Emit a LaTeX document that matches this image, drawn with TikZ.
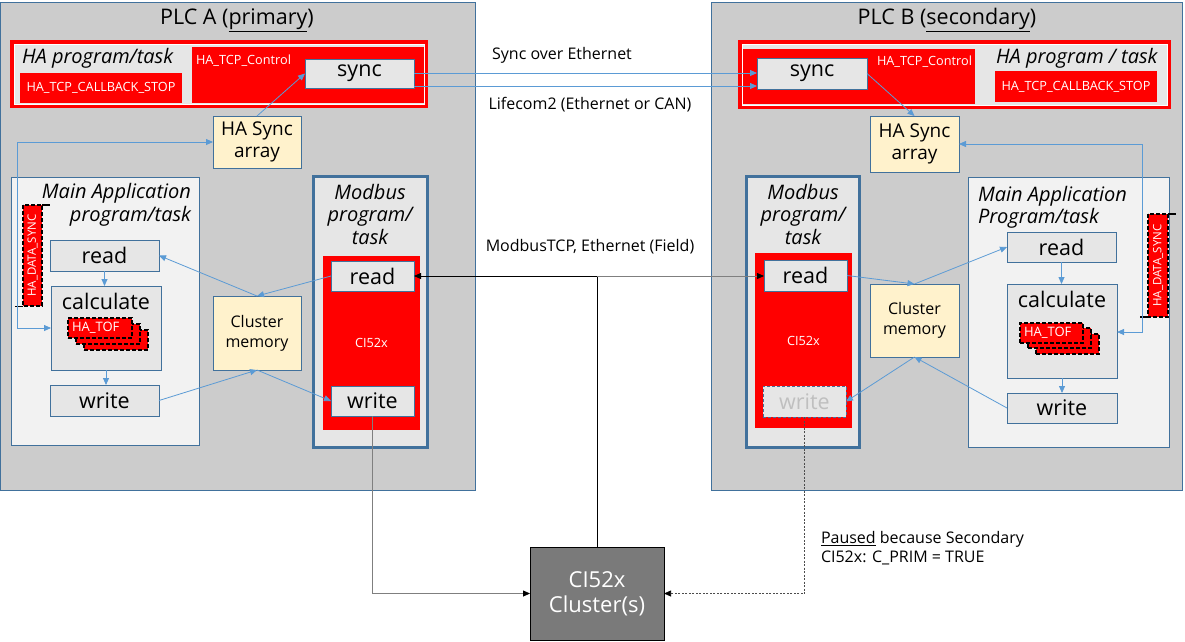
\documentclass[tikz,border=0pt]{standalone}
\usepackage{fontspec}
\setmainfont{Open Sans}
\usetikzlibrary{arrows.meta,calc}
\definecolor{plcgray}{HTML}{CCCCCC}
\definecolor{sb}{HTML}{41719C}
\definecolor{lb}{HTML}{5B9BD5}
\definecolor{bgray}{HTML}{E6E6E6}
\definecolor{mgray}{HTML}{F2F2F2}
\definecolor{yel}{HTML}{FFF2CC}
\definecolor{rd}{HTML}{FF0000}
\definecolor{cgray}{HTML}{7A7A7A}
\definecolor{lgray}{HTML}{7F7F7F}
\definecolor{ghost}{HTML}{BFBFBF}
\newcommand\R[7]{\node[#6, anchor=north west, minimum width=#4pt, minimum height=#5pt] (#1) at (#2,#3) {#7};}
\begin{document}
\begin{tikzpicture}[x=1pt,y=-1pt,
  every node/.style={inner sep=0pt, outer sep=0pt},
  plcbox/.style={draw=sb, line width=0.9pt, fill=plcgray},
  gbox/.style={draw=sb, line width=1pt, fill=bgray, font=\fontsize{21.5}{24}\selectfont},
  ybox/.style={draw=sb, line width=1pt, fill=yel, align=center},
  mainbox/.style={draw=sb, line width=1pt, fill=mgray},
  modbox/.style={draw=sb, line width=3pt, fill=bgray},
  redbox/.style={fill=rd, text=white, font=\fontsize{12.7}{14}\selectfont},
  haouter/.style={fill=rd},
  dsync/.style={fill=rd, draw=black, line width=1.6pt, dash pattern=on 4pt off 2pt, text=white, font=\fontsize{11.5}{13}\selectfont},
  tof/.style={fill=rd, draw=black, line width=1.6pt, dash pattern=on 4pt off 2pt},
  bracket/.style={draw=black, line width=1.6pt},
  ital/.style={font=\fontsize{20}{22.5}\selectfont\itshape},
  barrow/.style={draw=lb, line width=0.8pt, -{Triangle[length=7pt,width=6pt]}},
  bdarrow/.style={draw=lb, line width=0.8pt, {Triangle[length=7pt,width=6pt]}-{Triangle[length=7pt,width=6pt]}},
  karrow/.style={draw=black, line width=0.8pt, -{Triangle[length=7pt,width=6pt]}},
  garrow/.style={draw=lgray, line width=0.8pt, -{Triangle[length=7pt,width=6pt,color=black]}},
  darrow/.style={draw=black!70, line width=0.7pt, dash pattern=on 2pt off 1.5pt, -{Triangle[length=7pt,width=6pt,color=black]}},
  midtext/.style={font=\fontsize{16}{19}\selectfont},
  smallw/.style={text=white, font=\fontsize{12.7}{14}\selectfont}
]
\useasboundingbox (0,0) rectangle (1185,641);
\fill[white] (0,0) rectangle (1185,641);

% ---------- PLC A ----------
\R{plcA}{0}{2}{475}{488}{plcbox}{}
\node[font=\fontsize{21.5}{24}\selectfont] (titleA) at (237,20) {PLC A (\underline{primary})};
\R{haA}{10}{40}{418}{68}{haouter}{}
\fill[bgray] (14,44) rectangle (424,104);
\draw[white, line width=0.8pt] (14,44) rectangle (424,104);
\node[ital, anchor=west] (haAtxt) at (22,58) {HA program/task};
\R{cbA}{20}{73}{162}{30}{redbox}{HA\_TCP\_CALLBACK\_STOP}
\R{tcpA}{192}{47}{232}{56}{redbox}{}
\node[smallw, anchor=west] (tcpAtxt) at (196,61) {HA\_TCP\_Control};
\R{syncA}{305}{59}{109}{29}{gbox}{sync}
\R{hasA}{213}{116}{88}{52}{ybox, font=\fontsize{19}{22}\selectfont}{HA Sync\\array}

\R{mainA}{11}{177}{188}{268}{mainbox}{}
\node[ital, align=right, anchor=north east] (mainAtxt) at (191,183.5) {Main Application\\program/task};
\node[dsync, rotate=90, minimum width=101pt, minimum height=19pt] (dsA) at (32.5,255.5) {HA\_DATA\_SYNC};
\draw[bracket] (42,205) -- (50,205);
\draw[bracket] (15,306.5) -- (23,306.5);
\R{readA}{50}{240}{109}{31}{gbox}{read}
\R{calcA}{51}{286}{110}{84}{gbox}{}
\node[font=\fontsize{21.5}{24}\selectfont, anchor=north] (calcAtxt) at ($(calcA.north)+(0,7)$) {calculate};
\R{tofA3}{84}{330}{64}{20}{tof}{}
\R{tofA2}{76}{324}{64}{20}{tof}{}
\R{tofA1}{68}{318}{64}{20}{tof}{}
\node[smallw, font=\fontsize{13}{14}\selectfont, anchor=west] (tofAtxt) at (72,328) {HA\_TOF};
\R{writeA}{50}{385}{109}{31}{gbox}{write}
\R{cmA}{213}{296}{88}{74}{ybox, font=\fontsize{16}{20}\selectfont}{Cluster\\memory}

\R{modA}{313}{176}{114}{271}{modbox}{}
\node[ital, align=center, anchor=north] (modAtxt) at (370,184) {Modbus\\program/\\task};
\R{ciA}{323}{256}{97}{174}{redbox}{CI52x}
\R{mreadA}{331}{261}{83}{30}{gbox}{read}
\R{mwriteA}{331}{386}{83}{30}{gbox}{write}

% ---------- PLC B ----------
\R{plcB}{711}{2}{471}{488}{plcbox}{}
\node[font=\fontsize{21.5}{24}\selectfont] (titleB) at (947,20) {PLC B (\underline{secondary})};
\R{haB}{738}{40}{433}{69}{haouter}{}
\fill[bgray] (742,44) rectangle (1167,105);
\draw[white, line width=0.8pt] (742,44) rectangle (1167,105);
\node[ital, anchor=west] (haBtxt) at (996,58) {HA program / task};
\R{tcpB}{743}{49}{232}{55}{redbox}{}
\node[smallw, anchor=west] (tcpBtxt) at (877,62) {HA\_TCP\_Control};
\R{cbB}{995}{71}{162}{31}{redbox}{HA\_TCP\_CALLBACK\_STOP}
\R{syncB}{757}{58}{110}{31}{gbox}{sync}
\R{hasB}{870}{116}{89}{56}{ybox, font=\fontsize{19}{22}\selectfont}{HA Sync\\array}

\R{modB}{746}{176}{113}{271}{modbox}{}
\node[ital, align=center, anchor=north] (modBtxt) at (803,184) {Modbus\\program/\\task};
\R{ciB}{755}{253}{97}{175}{redbox}{CI52x}
\R{mreadB}{764}{260}{83}{31}{gbox}{read}
\R{mwriteB}{763}{386}{83}{31}{gbox, dash pattern=on 3pt off 2pt, text=ghost}{write}

\R{cmB}{870}{284}{89}{73}{ybox, font=\fontsize{16}{20}\selectfont}{Cluster\\memory}

\R{mainB}{968}{177}{201}{270}{mainbox}{}
\node[ital, align=left, anchor=north west] (mainBtxt) at (978,186) {Main Application\\Program/task};
\R{readB}{1007}{232}{109}{30}{gbox}{read}
\R{calcB}{1007}{284}{110}{94}{gbox}{}
\node[font=\fontsize{21.5}{24}\selectfont, anchor=north] (calcBtxt) at ($(calcB.north)+(0,7)$) {calculate};
\R{tofB3}{1036}{334}{63}{20}{tof}{}
\R{tofB2}{1028}{328}{63}{20}{tof}{}
\R{tofB1}{1020}{323}{63}{20}{tof}{}
\node[smallw, font=\fontsize{13}{14}\selectfont, anchor=west] (tofBtxt) at (1024,333) {HA\_TOF};
\R{writeB}{1007}{393}{110}{30}{gbox}{write}
\node[dsync, rotate=90, minimum width=103pt, minimum height=20pt] (dsB) at (1158,265.5) {HA\_DATA\_SYNC};
\draw[bracket] (1168,214) -- (1176,214);
\draw[bracket] (1140,317) -- (1148,317);

% ---------- Cluster ----------
\R{cluster}{530}{547}{134}{93}{draw=black, line width=0.8pt, fill=cgray, text=white, align=center, font=\fontsize{22}{25}\selectfont}{CI52x\\Cluster(s)}

% ---------- middle texts ----------
\node[midtext] (t1) at (562,55) {Sync over Ethernet};
\node[midtext] (t2) at (590,105) {Lifecom2 (Ethernet or CAN)};
\node[midtext] (t3) at (590,247) {ModbusTCP, Ethernet (Field)};
\node[align=left, anchor=north west, font=\fontsize{16}{19}\selectfont] (paused) at (821,531) {\underline{Paused} because Secondary\\CI52x: C\_PRIM = TRUE};

% ---------- connectors ----------
\draw[barrow] (syncA.east |- 0,73) -- (syncB.west |- 0,73);
\draw[barrow] (syncA.east |- 0,86) -- (syncB.west |- 0,86);
\draw[barrow] (hasA.north) -- (syncA.west);
\draw[bdarrow] (hasA.west) -- (17,142) -- (17,328) -- (calcA.west |- 0,328);
\draw[barrow] (readA.south) -- (readA.south |- calcA.north);
\draw[barrow] (calcA.south) -- (calcA.south |- writeA.north);
\draw[barrow] (mreadA.west) -- (cmA.north);
\draw[barrow] (cmA.north) -- (readA.east);
\draw[barrow] (writeA.east) -- (cmA.south);
\draw[barrow] (cmA.south) -- (mwriteA.west);

\draw[barrow] (syncB.east) -- (hasB.north);
\draw[bdarrow] (hasB.east) -- (1142,144) -- (1142,332) -- (calcB.east |- 0,332);
\draw[barrow] (readB.south) -- (readB.south |- calcB.north);
\draw[barrow] (calcB.south) -- (calcB.south |- writeB.north);
\draw[barrow] (mreadB.east) -- (cmB.north);
\draw[barrow] (cmB.north) -- (readB.west);
\draw[barrow] (writeB.west) -- (cmB.south);
\draw[barrow] (cmB.south) -- (mwriteB.east);

\coordinate (junc) at (cluster.north |- mreadA.east);
\draw[karrow] (cluster.north) -- (junc) -- (mreadA.east);
\draw[garrow] (junc) -- (mreadB.west |- junc);
\draw[garrow] (mwriteA.south) |- (cluster.west);
\draw[darrow] (mwriteB.south) |- (cluster.east);
\end{tikzpicture}
\end{document}
